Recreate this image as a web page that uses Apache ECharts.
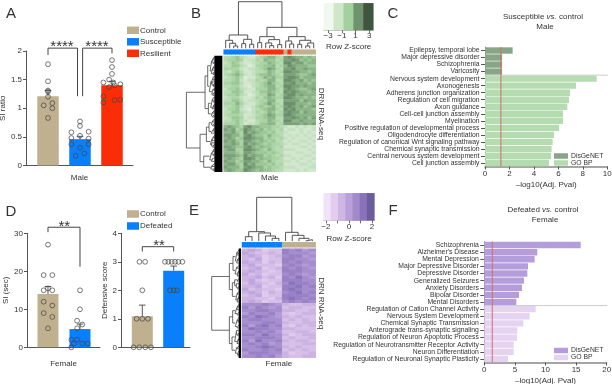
<!DOCTYPE html>
<html><head><meta charset="utf-8">
<style>html,body{margin:0;padding:0;background:#fff}#c{width:612px;height:384px}</style>
<script src="https://cdn.jsdelivr.net/npm/echarts@6/dist/echarts.min.js"></script>
</head><body><div id="c"></div>
<script>
// ---------- data ----------
const aGroups=['Control','Susceptible','Resilient'];
const aMeans=[1.21,0.46,1.40];
const aErr=[0.10,0.05,0.07];
const aControlPts=[[0,1.77],[0,1.47],[0,1.31],[0,1.29],[0,1.20],[-0.135,1.05],[0.135,1.09],[0.135,1.0],[0,0.83]];
const aSusceptiblePts=[[0,0.77],[0,0.69],[-0.27,0.58],[0.27,0.59],[-0.27,0.48],[0,0.52],[0.27,0.47],[-0.27,0.37],[0.27,0.37],[0,0.31],[0.135,0.21],[-0.135,0.17]];
const aResilientPts=[[0,1.84],[0,1.72],[0,1.6],[-0.27,1.45],[-0.09,1.5],[0.04,1.45],[0.26,1.42],[-0.09,1.37],[0.08,1.4],[-0.27,1.21],[-0.27,1.1],[0.08,1.14],[0.26,1.15]];

const dGroups=['Control','Defeated'];
const dSiMeans=[14,4.8];
const dSiErr=[2,1.3];
const dSiControlPts=[[0,27],[-0.135,19],[0.135,19],[-0.135,15],[0.135,15],[0,15.5],[-0.135,12],[0.135,11],[-0.135,9],[0.135,8],[0,5]];
const dSiDefeatedPts=[[0,15],[0,10],[-0.09,7],[0.07,6],[-0.09,5],[-0.27,2],[-0.09,2],[-0.19,1],[0.07,1],[0.24,1],[-0.27,0]];
const dDefMeans=[1.09,2.69];
const dDefErr=[0.39,0.16];
const dDefControlPts=[[-0.09,3],[0.09,3],[0,2],[-0.18,1],[0,1],[0.18,1],[-0.276,0],[-0.096,0],[0.096,0],[0.276,0]];
const dDefDefeatedPts=[[-0.277,3],[-0.17,3],[-0.064,3],[0.043,3],[0.15,3],[0.277,3],[-0.117,2],[0,2],[0.106,2]];

const cTerms=['Epilepsy, temporal lobe','Major depressive disorder','Schizophrenia','Varicosity','Nervous system development','Axonogenesis','Adherens junction organization','Regulation of cell migration','Axon guidance','Cell-cell junction assembly','Myelination','Positive regulation of developmental process','Oligodendrocyte differentiation','Regulation of canonical Wnt signaling pathway','Chemical synaptic transmission','Central nervous system development','Cell junction assembly'];
const cDisgenet=[2.26,1.4,1.4,1.4];
const cGobp=[9.13,7.44,6.95,6.87,6.73,6.38,6.38,6.05,5.64,5.53,5.45,5.4,5.23];

const fTerms=['Schizophrenia',"Alzheimer's Disease",'Mental Depression','Major Depressive Disorder','Depressive Disorder','Generalized Seizures','Anxiety Disorders','Bipolar Disorder','Mental Disorders','Regulation of Cation Channel Activity','Nervous System Development','Chemical Synaptic Transmission','Anterograde trans-synaptic signaling','Regulation of Neuron Apoptotic Process','Regulation of Neurotransmitter Receptor Activity','Neuron Differentiation','Regulation of Neuronal Synaptic Plasticity'];
const fDisgenet=[15.75,8.66,8.23,7.14,7.03,6.49,6.16,5.67,5.23];
const fGobp=[8.39,7.41,6.38,5.4,5.34,4.8,4.8,3.87];

const adjPvalCut=1.3;

// heat levels 0-9 per cell (light to dark), groups only for readability
const heatMale=[
"33453211 34566437 8766565","34454122 43655347 7875656","23542112 34465438 8677566","33553201 44556346 8766655",
"44442122 34576437 7866766","32453112 33465348 8776656","34564212 45565437 7765567","23453011 34656447 8875666",
"33452122 43466338 8767565","44553112 34575437 7866656","33442102 34566348 8776766","24453211 44466437 8765567",
"33554112 35565438 7876656","34453201 34476347 8867666","23442112 43565448 8766565","33553122 34466337 7775766",
"44464211 34575438 8866656","33453112 45456347 8767567","24452102 34566438 7866665","33553212 43465347 8775766",
"34443112 34576448 8766666","23554122 44566337 7876757","33453211 34465438 8667666","44453122 35566347 7776767",
"67654786 65554432 1121212","76745876 56454341 2212112","66754867 65545332 1112121","77664786 55464431 2121212",
"67645887 66454342 1211121","76754776 56545331 2112212","66764867 65454432 1221121","77655786 56554341 1112212",
"67744887 65464332 2211121","66654776 55545431 1122112","77765867 66454342 2111221","67654887 56554431 1212112",
"76645776 65464332 2121121","67754867 55545341 1112212","76664787 66454432 2211122","67655876 56554331 1121211"];
const heatFemale=[
"343122 76756","432232 76665","343123 67756","324122 77665","433132 76766","342221 67656","234123 76765","343212 77766","423122 67656",
"334231 76865","342122 77766","243213 68776","334122 77867","423221 78766","343132 67867","234122 77776","332213 78767","343122 67676",
"666765 32233","757656 23322","667766 33223","576675 21233","768765 32322","677666 23232","666776 32233","757867 21323","687766 33222",
"667675 22332","776866 31233","667776 23223","758667 32332","676756 22233","667876 32322","766767 23232","577766 31223","667675 32233"];
// sample groups along the top of the heat maps: 0 Susceptible/Defeated, 1 Resilient, 2 Control
const stripMale=[0,0,0,0,0,0,0,0,1,1,1,1,1,1,1,2,1,2,2,2,2,2,2];
const stripFemale=[0,0,0,0,0,0,2,2,2,2,2];
// clustering trees: [height, left, right], 0 = leaf
const colTreeMale=[140,[40,[24,0,[15,0,[7,0,0]]],[27,[14,0,0],[12,0,0]]],[63,[35,[17,0,0],[26,[16,0,[8,0,0]],[11,0,0]]],[35,[22,0,[13,0,0]],[24,[12,0,0],[16,[7,0,0],0]]]]];
const rowTreeMale=[112,
 [56,
  [48,
   [41,[36,[32,[30,0,0],0],[33,0,[31,0,0]]],[37,[34,[31,0,[30,0,0]],0],[32,[30,0,0],0]]],
   [43,[38,[33,[31,0,0],[30,0,0]],[35,0,[31,[30,0,0],0]]],[36,[32,0,[30,0,0]],[33,[31,0,0],0]]]],
  [46,
   [39,[34,[31,0,0],[32,0,[30,0,0]]],[35,[31,[30,0,0],0],0]],
   [37,[33,[30,0,0],0],[34,0,[31,0,0]]]]],
 [71,
  [52,
   [44,[37,[33,[31,0,0],0],[34,0,[30,0,0]]],[38,[32,[30,0,0],0],[33,0,0]]],
   [40,[35,[31,0,[30,0,0]],[32,0,0]],[36,0,[33,[30,0,0],0]]]],
  [60,
   [42,[36,[32,[30,0,0],0],[33,0,[31,0,0]]],[37,[34,0,0],[32,0,0]]],
   [39,[35,[31,0,0],0],[33,0,[30,0,0]]]]]];
const colTreeFemale=[131,[28,[13,0,0],[24,0,[15,0,[8,0,0]]]],[26,0,[17,0,[8,0,[4,0,0]]]]];
const rowTreeFemale=[91,
 [38,[27,[20,[15,0,[13,0,0]],[16,[13,0,0],0]],[21,[16,0,0],[14,[12,0,0],0]]],[29,[22,[15,0,0],[17,0,[13,0,0]]],[19,[14,0,0],[15,[12,0,0],0]]]],
 [38,[28,[21,[16,[13,0,0],0],[15,0,0]],[20,[14,0,[12,0,0]],[15,0,0]]],[30,[22,[17,0,[13,0,0]],[15,[12,0,0],0]],[20,[16,0,0],[14,0,[12,0,0]]]]]];
const greenScale=['#f1f8ef','#cfe6cb','#a3d19d','#6f936f','#3d563d'];
const purpleScale=['#f1e3f7','#e2cdee','#cfb7e4','#b9a0d9','#a189cc','#8a72bb','#6c5c9c'];
const zTicksMale=[-3,-1,1,3];
const zLabelsFemale=[-2,0,2];
const zTicksFemale=[-2,-1,0,1,2];

// ---------- build ----------
const FONT='"Liberation Sans", Arial, sans-serif', TXT='#333', AX='#555';
const TAN='#bfb08f', BLUE='#0a7ffb', RED='#fb2d07';
const levelRange=[[-2,11],[-1,10]];
const grids=[],xAxes=[],yAxes=[],series=[],texts=[];
const fs=s=>({fontFamily:FONT,fontSize:s,color:TXT});
function addGrid(l,t,w,h){grids.push({left:l,top:t,width:w,height:h,outerBoundsMode:'none'});return grids.length-1;}
function addX(o){xAxes.push(o);return xAxes.length-1;}
function addY(o){yAxes.push(o);return yAxes.length-1;}
const line={show:true,onZero:false,lineStyle:{color:AX,width:1}};
const hiddenVal=(g,min,max,inv)=>({type:'value',gridIndex:g,min,max,inverse:!!inv,show:false,splitLine:{show:false}});
function text(t,x,y,s,align,extra){texts.push({type:'text',x,y,silent:true,z:50,style:Object.assign({text:t,fill:TXT,fontFamily:FONT,fontSize:s,align:align||'center',verticalAlign:'middle'},extra||{})});}

function barPanel(cfg){
  const g=addGrid(cfg.left,cfg.top,cfg.width,cfg.height);
  const xi=addX({type:'value',gridIndex:g,min:0,max:cfg.width/cfg.band,axisLine:line,axisTick:{show:false},axisLabel:{show:false},splitLine:{show:false},name:cfg.xName,nameLocation:'middle',nameGap:cfg.xGap,nameTextStyle:fs(8)});
  const yi=addY({type:'value',gridIndex:g,min:0,max:cfg.max,interval:cfg.interval,axisLine:line,axisTick:{show:true,length:3,lineStyle:{color:AX}},axisLabel:Object.assign(fs(8),{margin:4}),splitLine:{show:false},name:cfg.yName,nameLocation:'middle',nameGap:cfg.yGap,nameTextStyle:fs(8)});
  const base={xAxisIndex:xi,yAxisIndex:yi,silent:true};
  cfg.groups.forEach((name,i)=>{
    const c=cfg.first+i;
    series.push(Object.assign({type:'bar',name,barWidth:cfg.barWidth,barGap:'-100%',itemStyle:{color:cfg.colors[i]},z:2,data:[[c,cfg.means[i]]]},base));
  });
  series.push(Object.assign({type:'custom',z:3,clip:false,data:cfg.means.map((m,i)=>[cfg.first+i,m,m+cfg.err[i]]),encode:{x:0,y:[1,2]},
    renderItem(p,api){const a=api.coord([api.value(0),api.value(1)]),b=api.coord([api.value(0),api.value(2)]);
      const st={stroke:'#444',lineWidth:0.9,fill:'none'};
      return {type:'group',children:[{type:'line',shape:{x1:a[0],y1:a[1],x2:b[0],y2:b[1]},style:st},{type:'line',shape:{x1:b[0]-3.3,y1:b[1],x2:b[0]+3.3,y2:b[1]},style:st}]};}},base));
  cfg.points.forEach((pts,i)=>{
    series.push(Object.assign({type:'scatter',clip:false,z:4,symbol:'circle',symbolSize:4.8,itemStyle:{color:'rgba(255,255,255,0)',borderColor:'#444',borderWidth:0.9},data:pts.map(p=>[cfg.first+i+p[0],p[1]])},base));
  });
  series.push(Object.assign({type:'line',clip:false,z:5,symbol:'none',lineStyle:{color:'#444',width:1},connectNulls:false,data:cfg.bracket},base));
}
const gap=['-','-'];
barPanel({left:26,top:51,width:107,height:114.5,band:32,first:0.6875,barWidth:21.5,max:2,interval:0.5,yName:'SI ratio',yGap:17,xName:'Male',xGap:8,
  groups:aGroups,means:aMeans,err:aErr,colors:[TAN,BLUE,RED],points:[aControlPts,aSusceptiblePts,aResilientPts],
  bracket:[[0.6875,1.93],[0.6875,2.05],[1.61,2.05],[1.61,1.21],gap,[1.77,1.21],[1.77,2.05],[2.6875,2.05],[2.6875,1.96]]});
barPanel({left:27,top:233.3,width:73,height:114,band:32,first:0.656,barWidth:21,max:30,interval:10,yName:'SI (sec)',yGap:16,xName:'Female',xGap:12,
  groups:dGroups,means:dSiMeans,err:dSiErr,colors:[TAN,BLUE],points:[dSiControlPts,dSiDefeatedPts],
  bracket:[[0.656,30.3],[0.656,31.6],[1.656,31.6],[1.656,21.2]]});
barPanel({left:121,top:233.3,width:69,height:114,band:31.4,first:0.678,barWidth:21,max:4,interval:1,yName:'Defensive score',yGap:11,xName:'',xGap:12,
  groups:dGroups,means:dDefMeans,err:dDefErr,colors:[TAN,BLUE],points:[dDefControlPts,dDefDefeatedPts],
  bracket:[[0.678,3.36],[0.678,3.53],[1.678,3.53],[1.678,3.36]]});

// enrichment bars
function enrich(cfg){
  const g=addGrid(cfg.left,cfg.top,cfg.width,cfg.height);
  const n=cfg.terms.length;
  const xi=addX({type:'value',gridIndex:g,min:0,max:cfg.xMax,interval:cfg.xInt,axisLine:{show:true,onZero:false,lineStyle:{color:'#888',width:1.5}},axisTick:{show:true,length:3,lineStyle:{color:AX}},axisLabel:Object.assign(fs(8),{margin:3,alignMaxLabel:'center',alignMinLabel:'center'}),splitLine:{show:false},name:'\u2013log10(Adj. Pval)',nameLocation:'middle',nameGap:14,nameTextStyle:fs(8)});
  const yi=addY({type:'category',gridIndex:g,inverse:true,data:cfg.terms,axisLine:{show:true,onZero:false,lineStyle:{color:'#777',width:0.8}},axisTick:{show:true,alignWithLabel:true,length:4,lineStyle:{color:AX}},axisLabel:Object.assign(fs(6.8),{margin:5.5,interval:0})});
  const yv=addY(hiddenVal(g,0,n,true));
  const pad=a=>a.concat(Array(n-a.length).fill('-'));
  const padL=a=>Array(n-a.length).fill('-').concat(a);
  series.push({type:'bar',name:'DisGeNET',xAxisIndex:xi,yAxisIndex:yi,silent:true,barWidth:6.4,barGap:'-100%',itemStyle:{color:cfg.colors[0]},z:2,data:pad(cfg.dis)});
  series.push({type:'bar',name:'GO BP',xAxisIndex:xi,yAxisIndex:yi,silent:true,barWidth:6.4,barGap:'-100%',itemStyle:{color:cfg.colors[1]},z:2,data:padL(cfg.go)});
  series.push({type:'line',xAxisIndex:xi,yAxisIndex:yv,silent:true,clip:false,symbol:'none',z:3,lineStyle:{color:'#ccc',width:1},data:[[0,cfg.dis.length],[cfg.xMax*1.004,cfg.dis.length]]});
  series.push({type:'line',xAxisIndex:xi,yAxisIndex:yv,silent:true,symbol:'none',z:4,lineStyle:{color:'#cf6f68',width:1},data:[[adjPvalCut,0],[adjPvalCut,n]]});
}
enrich({left:485,top:47,width:122.3,height:119.5,xMax:10,xInt:2,terms:cTerms,dis:cDisgenet,go:cGobp,colors:['#86a686','#b4dcb0']});
enrich({left:484.3,top:241.5,width:122.4,height:121,xMax:20,xInt:5,terms:fTerms,dis:fDisgenet,go:fGobp,colors:['#b59ddb','#e6d3f2']});

// heat maps
const digits=s=>s.replace(/ /g,'').split('').map(Number);
const cats=n=>Array.from({length:n},(_,i)=>String(i));
const hiddenCat=(g,n,inv)=>({type:'category',gridIndex:g,data:cats(n),inverse:!!inv,axisLine:{show:false},axisTick:{show:false},axisLabel:{show:false}});
function treeLines(tree,leafH,vertical){
  const pts=[],leaves=[];let k=0;
  const node=t=>{
    if(t===0){const p=k+0.5;k++;leaves.push(p);return [p,leafH];}
    const a=node(t[1]),b=node(t[2]);const h=t[0];
    const P=(pos,ht)=>vertical?[ht,pos]:[pos,ht];
    pts.push(P(a[0],a[1]),P(a[0],h),P(b[0],h),P(b[0],b[1]),gap);
    return [(a[0]+b[0])/2,h];
  };
  node(tree);return {pts,leaves,n:k};
}
const heatSeries=[[],[]];
const stripSeries=[];
function heatPanel(cfg){
  const nR=cfg.rows.length,nC=digits(cfg.rows[0]).length;
  const g=addGrid(cfg.left,cfg.top,cfg.width,cfg.height);
  const xi=addX(Object.assign(hiddenCat(g,nC),{name:cfg.xName,nameLocation:'middle',nameGap:2,nameTextStyle:fs(8)}));
  const yi=addY(Object.assign(hiddenCat(g,nR,true),{position:'right',name:'DRN RNA-seq',nameLocation:'middle',nameRotate:-90,nameGap:2,nameTextStyle:fs(8)}));
  const data=[];cfg.rows.forEach((r,y)=>digits(r).forEach((v,x)=>data.push([x,y,v])));
  series.push({type:'heatmap',xAxisIndex:xi,yAxisIndex:yi,silent:true,progressive:0,data});
  heatSeries[cfg.pal].push(series.length-1);
  const gs=addGrid(cfg.left,cfg.stripTop,cfg.width,cfg.stripH);
  const xs=addX(hiddenCat(gs,nC)),ys=addY(hiddenCat(gs,1));
  series.push({type:'heatmap',xAxisIndex:xs,yAxisIndex:ys,silent:true,data:cfg.strip.map((v,x)=>[x,0,v])});
  stripSeries.push(series.length-1);
  const gt=addGrid(cfg.left,cfg.treeTop,cfg.width,cfg.treeH);
  const xt=addX(hiddenVal(gt,0,nC)),yt=addY(hiddenVal(gt,0,cfg.colTree[0]));
  series.push({type:'line',xAxisIndex:xt,yAxisIndex:yt,silent:true,clip:false,symbol:'none',connectNulls:false,lineStyle:{color:'#555',width:1},data:treeLines(cfg.colTree,0,false).pts});
  const gl=addGrid(cfg.left-cfg.rowW,cfg.top,cfg.rowW,cfg.height);
  const tr=treeLines(cfg.rowTree,cfg.leafH,true);
  const xl=addX(hiddenVal(gl,0,cfg.rowTree[0],true)),yl=addY(hiddenVal(gl,0,tr.n,true));
  series.push({type:'line',xAxisIndex:xl,yAxisIndex:yl,silent:true,clip:false,symbol:'none',connectNulls:false,lineStyle:{color:'#444',width:0.8},data:tr.pts});
  const black=[];tr.leaves.forEach(p=>{black.push([cfg.leafL,p],[cfg.leafH,p],gap);});
  series.push({type:'line',xAxisIndex:xl,yAxisIndex:yl,silent:true,clip:false,symbol:'none',connectNulls:false,lineStyle:{color:'#000',width:cfg.height/tr.n+0.6},data:black});
}
heatPanel({pal:0,rows:heatMale,strip:stripMale,colTree:colTreeMale,rowTree:rowTreeMale,left:223.7,top:56,width:92,height:115.7,stripTop:49.7,stripH:4.6,treeTop:1.7,treeH:46.6,rowW:37.3,leafL:4,leafH:28,xName:'Male'});
heatPanel({pal:1,rows:heatFemale,strip:stripFemale,colTree:colTreeFemale,rowTree:rowTreeFemale,left:242,top:248.7,width:73.7,height:109,stripTop:242.3,stripH:5,treeTop:197.3,treeH:43.7,rowW:30.3,leafL:3,leafH:10,xName:'Female'});

// colour keys
function colorKey(cfg){
  const g=addGrid(cfg.left,cfg.top,cfg.width,cfg.height);
  const n=cfg.scale.length;
  const xc=addX(hiddenCat(g,n));
  const minus=v=>String(v).replace('-','\u2212');
  const xv=addX({type:'value',gridIndex:g,position:'bottom',min:-cfg.range,max:cfg.range,splitLine:{show:false},axisLine:{show:true,onZero:false,lineStyle:{color:'#aaa',width:0.8}},
    axisTick:{show:true,length:3,customValues:cfg.ticks,lineStyle:{color:'#666'}},
    axisLabel:Object.assign(fs(8),{customValues:cfg.labels,margin:2,formatter:minus,showMinLabel:true,showMaxLabel:true}),
    name:'Row Z-score',nameLocation:'middle',nameGap:cfg.nameGap,nameTextStyle:fs(8)});
  const yc=addY(hiddenCat(g,1));
  const r=levelRange[cfg.pal];
  series.push({type:'heatmap',xAxisIndex:xc,yAxisIndex:yc,silent:true,data:cfg.scale.map((c,i)=>[i,0,r[0]+i/(n-1)*(r[1]-r[0])])});
  heatSeries[cfg.pal].push(series.length-1);
}
colorKey({pal:0,left:324,top:3.3,width:49.3,height:26.7,range:3.6,scale:greenScale,ticks:zTicksMale,labels:zTicksMale,nameGap:13});
colorKey({pal:1,left:323.7,top:193.3,width:50.7,height:27,range:2.2,scale:purpleScale,ticks:zTicksFemale,labels:zLabelsFemale,nameGap:14});

// text
[['A',11,13.5],['B',196,13.5],['C',393,13.5],['D',11,211.5],['E',194,211],['F',393,211]].forEach(a=>text(a[0],a[1],a[2],15));
text('****',62,47,15);text('****',97,47,15);text('**',64.3,226.5,15);text('**',159,246,15);
const it={i:{fontStyle:'italic',fontFamily:FONT,fontSize:8,fill:TXT}};
text('Susceptible {i|vs.} control',543,17,8,'center',{rich:it});text('Male',545,27,8);
text('Defeated {i|vs.} control',543,210,8,'center',{rich:it});text('Female',545,220,8);

const lg=(o)=>Object.assign({orient:'vertical',icon:'rect',padding:0,selectedMode:false,textStyle:Object.assign(fs(8),{padding:[0,0,0,-4]})},o);
const small=Object.assign(fs(6.8),{padding:[0,0,0,-2]});
const option={animation:false,backgroundColor:'#fff',grid:grids,xAxis:xAxes,yAxis:yAxes,series,
  legend:[
    lg({left:127,top:26.3,itemWidth:12,itemHeight:7.5,itemGap:3.5,data:aGroups}),
    lg({left:127,top:210,itemWidth:12,itemHeight:7.5,itemGap:4,data:['Control','Defeated']}),
    lg({left:554,top:152.5,itemWidth:14,itemHeight:5.5,itemGap:0,textStyle:small,data:[{name:'DisGeNET',itemStyle:{color:'#86a686'}},{name:'GO BP',itemStyle:{color:'#b4dcb0'}}]}),
    lg({left:554,top:347,itemWidth:14,itemHeight:5.5,itemGap:0,textStyle:small,data:[{name:'DisGeNET',itemStyle:{color:'#b59ddb'}},{name:'GO BP',itemStyle:{color:'#e6d3f2'}}]})
  ],
  visualMap:[
    {type:'continuous',show:false,seriesIndex:heatSeries[0],min:levelRange[0][0],max:levelRange[0][1],inRange:{color:greenScale}},
    {type:'continuous',show:false,seriesIndex:heatSeries[1],min:levelRange[1][0],max:levelRange[1][1],inRange:{color:purpleScale}},
    {type:'piecewise',show:false,seriesIndex:stripSeries,pieces:[{value:0,color:BLUE},{value:1,color:RED},{value:2,color:TAN}]}
  ],
  graphic:{elements:texts}
};
echarts.init(document.getElementById('c'),null,{renderer:'canvas'}).setOption(option);
</script></body></html>
